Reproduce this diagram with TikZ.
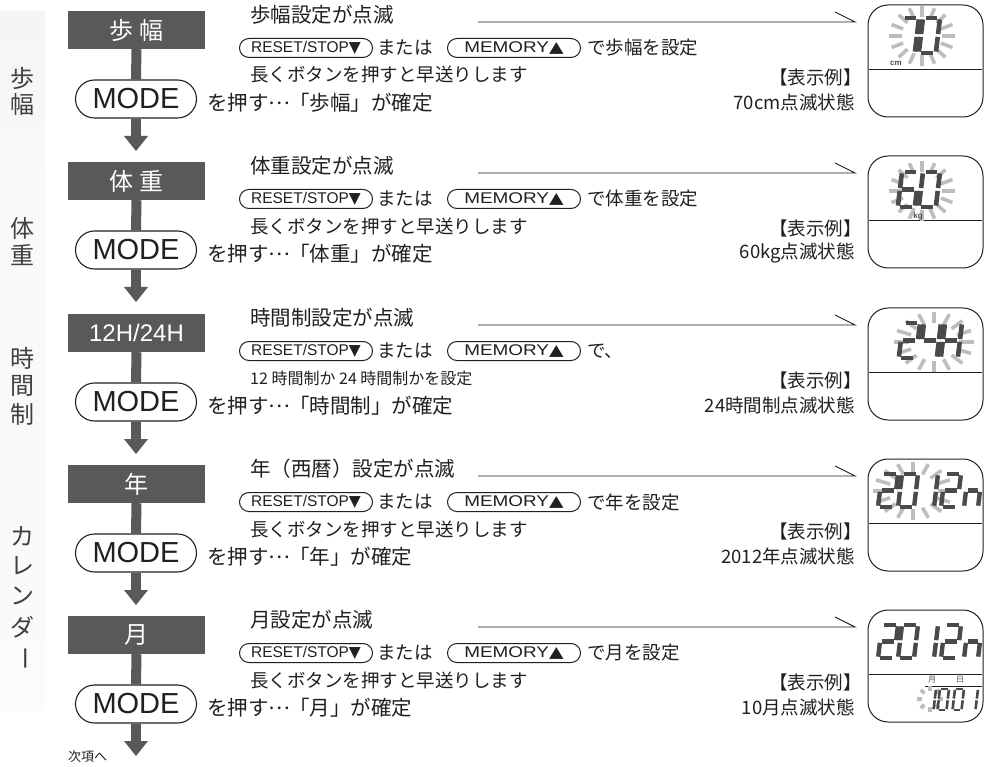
\documentclass[tikz,border=0pt]{standalone}
\usepackage{fontspec}
\setmainfont{Liberation Sans}
\newfontfamily\jp{Noto Sans CJK JP}
\newfontfamily\dejavu{DejaVu Sans}
\usetikzlibrary{shapes.misc}
\definecolor{hdrgray}{HTML}{58595B}
\definecolor{ink}{HTML}{231F20}
\definecolor{lcdink}{HTML}{4A4A4A}
\definecolor{raygray}{HTML}{BDBDBD}
\definecolor{sidetext}{HTML}{404040}

\tikzset{
 hdr/.style={fill=hdrgray, text=white, minimum width=137pt, minimum height=38pt, inner sep=0pt, font=\jp\fontsize{24}{26}\selectfont},
 modepill/.style={draw=ink, fill=white, rounded rectangle, minimum width=121pt, minimum height=38pt, inner sep=0pt, line width=1.1pt, font=\fontsize{29}{30}\selectfont, text=ink},
 btn/.style={draw=ink, fill=white, rounded rectangle, minimum width=133pt, minimum height=19pt, inner sep=0pt, line width=1pt, font=\fontsize{15.5}{16}\selectfont, text=ink},
 jtxt/.style={inner sep=0pt, text=ink, font=\jp\fontsize{18.5}{20}\selectfont},
 jbig/.style={inner sep=0pt, text=ink, font=\jp\fontsize{20.5}{22}\selectfont},
 stemline/.style={draw=hdrgray, line width=10pt},
 pline/.style={draw=ink, line width=0.9pt},
 dispbox/.style={draw=ink, line width=1pt, rounded corners=20pt, minimum width=115pt, minimum height=112pt, inner sep=0pt},
 sidelbl/.style={inner sep=0pt, text=sidetext, font=\jp\fontsize{24}{26}\selectfont},
 raystyle/.style={draw=raygray, line width=3.6pt},
 unitlbl/.style={inner sep=0pt, text=lcdink, font=\bfseries\fontsize{8}{8}\selectfont},
 junit/.style={inner sep=0pt, text=lcdink, font=\jp\fontsize{8}{8}\selectfont},
}

\newcommand\lcdsegA{\draw (0.15,0)--(0.85,0);}
\newcommand\lcdsegB{\draw (1,0.08)--(1,0.92);}
\newcommand\lcdsegC{\draw (1,1.08)--(1,1.92);}
\newcommand\lcdsegD{\draw (0.15,2)--(0.85,2);}
\newcommand\lcdsegE{\draw (0,1.08)--(0,1.92);}
\newcommand\lcdsegF{\draw (0,0.08)--(0,0.92);}
\newcommand\lcdsegG{\draw (0.15,1)--(0.85,1);}
% x y width halfheight linewidth segments
\newcommand\lcd[6]{%
 \begin{scope}[shift={(#1,#2)}, x=#3pt, y=-#4pt, xslant=0.12, line width=#5pt, color=lcdink]
 \foreach \s in {#6}{\csname lcdseg\s\endcsname}
 \end{scope}}
% cx cy rx ry step
\newcommand\lcdrays[5]{%
 \foreach \ang in {0,#5,...,359}{\draw[raystyle] ({#1+0.62*#3*cos(\ang)},{#2+0.62*#4*sin(\ang)}) -- ({#1+#3*cos(\ang)},{#2+#4*sin(\ang)});}}

\newcommand\midell{\makebox[1em]{\raisebox{0.33em}{…}}}

% idx T header line1 tail line3 key status
\newcommand\flowrow[8]{%
 \node[hdr] (h#1) at (136.5,{#2+18}) {#3};
 \node[modepill] (m#1) at (136,{#2+87}) {MODE};
 \coordinate (tip#1) at (136,{#2+139});
 \draw[stemline] (h#1.south) -- (m#1.north);
 \draw[stemline, shorten >=8pt] (m#1.south) -- (tip#1);
 \fill[hdrgray] (tip#1) -- ++(-12,-15) -- ++(24,0) -- cycle;
 \node[jbig, anchor=west] (la#1) at (250,{#2+3}) {#4};
 \node[btn, anchor=west] (rs#1) at (239,{#2+36}) {RESET/STOP{\dejavu ▼}};
 \node[jtxt, anchor=west] (or#1) at (377,{#2+36}) {または};
 \node[btn, anchor=west] (me#1) at (447,{#2+36}) {\scalebox{1.22}[1]{MEMORY{\dejavu ▲}}};
 \node[jtxt, anchor=west] (tl#1) at (587,{#2+36}) {#5};
 \node[jtxt, anchor=west] (lc#1) at (250,{#2+63}) {#6};
 \node[jbig, anchor=west] (ld#1) at (207,{#2+91}) {を押す\midell「#7」が確定};
 \node[jtxt, anchor=east] (ex#1) at (862,{#2+65}) {【表示例】};
 \node[jtxt, anchor=east] (st#1) at (855,{#2+90}) {#8};
 \coordinate (as#1) at (478,{#2+10});
 \coordinate (ae#1) at (855,{#2+10});
 \draw[pline] (as#1) -- (ae#1) -- ++(-20,-10);
 \node[dispbox] (d#1) at (925.5,{#2+49}) {};
 \draw[pline] (869,{#2+57}) -- (982,{#2+57});
}

\begin{document}
\begin{tikzpicture}[x=1pt,y=-1pt]
\useasboundingbox (0,0) rectangle (985,767);
\fill[white] (0,0) rectangle (985,767);

% sidebar
\shade[top color=gray!8, middle color=gray!22, bottom color=gray!5] (0,12) rectangle (45,170);
\shade[top color=gray!5, middle color=gray!22, bottom color=gray!5] (0,170) rectangle (45,303);
\shade[top color=gray!5, middle color=gray!22, bottom color=gray!5] (0,303) rectangle (45,443);
\shade[top color=gray!5, middle color=gray!22, bottom color=gray!3] (0,443) rectangle (45,710);
\node[sidelbl] (s1) at (22,78) {歩};
\node[sidelbl] (s2) at (22,104) {幅};
\node[sidelbl] (s3) at (22,228) {体};
\node[sidelbl] (s4) at (22,255) {重};
\node[sidelbl] (s5) at (22,358) {時};
\node[sidelbl] (s6) at (22,386) {間};
\node[sidelbl] (s7) at (22,414) {制};
\node[sidelbl] (s8) at (22,536) {カ};
\node[sidelbl] (s9) at (22,566) {レ};
\node[sidelbl] (s10) at (22,596) {ン};
\node[sidelbl] (s11) at (22,627) {ダ};
\node[sidelbl, rotate=-90] (s12) at (22,658) {ー};

\flowrow{1}{12}{歩 幅}{歩幅設定が点滅}{で歩幅を設定}{長くボタンを押すと早送りします}{歩幅}{70cm点滅状態}
\flowrow{2}{163}{体 重}{体重設定が点滅}{で体重を設定}{長くボタンを押すと早送りします}{体重}{60kg点滅状態}
\flowrow{3}{315}{{\rmfamily 12H/24H}}{時間制設定が点滅}{で、}{{\fontsize{16}{18}\selectfont 12 時間制か 24 時間制かを設定}}{時間制}{24時間制点滅状態}
\flowrow{4}{466}{年}{年（西暦）設定が点滅}{で年を設定}{長くボタンを押すと早送りします}{年}{2012年点滅状態}
\flowrow{5}{617}{月}{月設定が点滅}{で月を設定}{長くボタンを押すと早送りします}{月}{10月点滅状態}

\node[inner sep=0pt, anchor=west, text=ink, font=\jp\fontsize{13}{14}\selectfont] (next) at (68,757) {次項へ};

% display 1: 70 cm
\lcdrays{922}{36}{33}{30}{22.5}
\lcd{902}{18}{17}{17.5}{4.6}{A,B,C}
\lcd{923}{18}{17}{17.5}{4.6}{A,B,C,D,E,F}
\node[unitlbl] (cm) at (896,63) {cm};
% display 2: 60 kg
\lcdrays{922}{191}{33}{30}{22.5}
\lcd{902}{172}{17}{17.5}{4.6}{A,F,G,E,C,D}
\lcd{923}{172}{17}{17.5}{4.6}{A,B,C,D,E,F}
\node[unitlbl] (kg) at (918,216) {kg};
% display 3: 24H
\lcdrays{934}{342}{40}{30}{22.5}
\lcd{903}{323}{17}{17.5}{4.6}{A,B,G,E,D}
\lcd{924}{323}{17}{17.5}{4.6}{F,G,B,C}
\lcd{945}{323}{17}{17.5}{4.6}{F,E,G,B,C}
% display 4: 2012
\lcdrays{913}{491}{40}{29}{22.5}
\lcd{882}{474}{16}{16.5}{4.4}{A,B,G,E,D}
\lcd{902}{474}{16}{16.5}{4.4}{A,B,C,D,E,F}
\lcd{922}{474}{16}{16.5}{4.4}{B,C}
\lcd{945}{474}{16}{16.5}{4.4}{A,B,G,E,D}
\lcd{968}{474}{14}{16.5}{4.4}{E,G,C}
% display 5: 2012 / 10 01
\lcd{882}{625}{16}{16.5}{4.4}{A,B,G,E,D}
\lcd{902}{625}{16}{16.5}{4.4}{A,B,C,D,E,F}
\lcd{922}{625}{16}{16.5}{4.4}{B,C}
\lcd{945}{625}{16}{16.5}{4.4}{A,B,G,E,D}
\lcd{968}{625}{14}{16.5}{4.4}{E,G,C}
\draw[pline] (925,686) -- (982,686);
\node[junit] (mon) at (932,680) {月};
\node[junit] (day) at (960,680) {日};
\lcdrays{930}{699}{13}{13}{45}
\lcd{927}{689}{9}{10.5}{2.6}{B,C}
\lcd{940}{689}{9}{10.5}{2.6}{A,B,C,D,E,F}
\lcd{955}{689}{9}{10.5}{2.6}{A,B,C,D,E,F}
\lcd{969}{689}{9}{10.5}{2.6}{B,C}
\end{tikzpicture}
\end{document}
